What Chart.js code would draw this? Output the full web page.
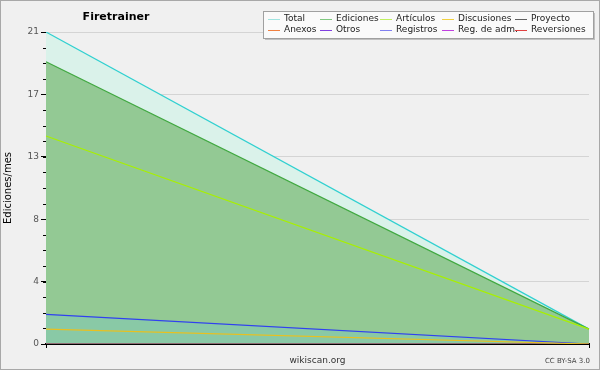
<!DOCTYPE html>
<html>
<head>
<meta charset="utf-8">
<script src="https://cdn.jsdelivr.net/npm/chart.js@4/dist/chart.umd.min.js"></script>
<style>
html,body{margin:0;padding:0;background:#f0f0f0;}
#wrap{width:600px;height:370px;position:relative;}
</style>
</head>
<body>
<div id="wrap"><canvas id="c" width="600" height="370"></canvas></div>
<script>
const months = ["2016-01", "2016-02"];
const seriesNames = ["Total","Ediciones","Artículos","Discusiones","Proyecto","Anexos","Otros","Registros","Reg. de adm.","Reversiones"];
const total = [21, 1];
const ediciones = [19, 1];
const articulos = [14, 1];
const discusiones = [1, 0];
const proyecto = [0, 0];
const anexos = [0, 0];
const otros = [0, 0];
const registros = [2, 0];
const regAdm = [0, 0];
const reversiones = [0, 0];
const yTickLabels = ["0","4","8","13","17","21"];

const legendColors = ["#a0e4e0","#80c880","#c0f060","#f0d040","#606060","#f08040","#8040e0","#8080f0","#c040e0","#e04040"];
const lineColors = ["#30d0d0","#40a840","#a8f000","#e8c020","#606060","#f08040","#8040e0","#3040f0","#c040e0","#e04040"];
const fills = ["#daf2ea","#93c994",false,false,false,false,false,"rgba(120,200,200,0.35)",false,false];
const values = [total, ediciones, articulos, discusiones, proyecto, anexos, otros, registros, regAdm, reversiones];

const datasets = seriesNames.map((n,i)=>({
  label: n,
  data: values[i],
  borderColor: lineColors[i],
  backgroundColor: fills[i] || 'transparent',
  fill: fills[i] ? 'origin' : false,
  borderWidth: 1.2,
  pointRadius: 0,
  tension: 0,
  order: i===0 ? 10 : (i===1 ? 9 : (i===7 ? 8 : i))
}));

const deco = {
  id: 'deco',
  beforeDraw(chart){
    const ctx = chart.ctx;
    ctx.save();
    ctx.fillStyle = '#f0f0f0';
    ctx.fillRect(0,0,600,370);
    ctx.strokeStyle = '#a8a8a8';
    ctx.lineWidth = 1;
    ctx.strokeRect(0.5,0.5,599,369);
    ctx.restore();
  },
  afterDraw(chart){
    const ctx = chart.ctx;
    const y = chart.scales.y;
    const left = chart.chartArea.left;
    ctx.save();
    ctx.strokeStyle = '#000';
    ctx.lineWidth = 1;
    for (let v = 0; v <= 21.001; v += 1.05) {
      const py = Math.round(y.getPixelForValue(v)) + 0.5;
      ctx.beginPath();
      ctx.moveTo(left - 3, py);
      ctx.lineTo(left, py);
      ctx.stroke();
    }
    ctx.fillStyle = '#000';
    ctx.font = 'bold 11px "DejaVu Sans"';
    ctx.textAlign = 'center';
    ctx.textBaseline = 'middle';
    ctx.fillText('Firetrainer', 116, 17);
    ctx.font = '7px "DejaVu Sans"';
    ctx.fillStyle = '#444';
    ctx.textAlign = 'right';
    ctx.fillText('CC BY-SA 3.0', 590, 361);
    const bx = 263, by = 11, bw = 330, bh = 27;
    ctx.fillStyle = '#c0c0c0';
    ctx.fillRect(bx+2, by+2, bw, bh);
    ctx.fillStyle = '#fafafa';
    ctx.fillRect(bx, by, bw, bh);
    ctx.strokeStyle = '#a0a0a0';
    ctx.strokeRect(bx+0.5, by+0.5, bw, bh);
    const colX = [268, 320, 380, 442, 515];
    const rowY = [19, 29.5];
    ctx.font = '9px "DejaVu Sans"';
    ctx.textAlign = 'left';
    ctx.textBaseline = 'middle';
    chart.data.datasets.forEach((ds, i) => {
      const c = i % 5, r = Math.floor(i / 5);
      const x = colX[c], yy = rowY[r];
      ctx.strokeStyle = legendColors[i];
      ctx.lineWidth = 1;
      ctx.beginPath();
      ctx.moveTo(x, Math.round(yy)+0.5);
      ctx.lineTo(x+12, Math.round(yy)+0.5);
      ctx.stroke();
      ctx.fillStyle = '#222';
      ctx.fillText(ds.label, x+16, yy);
    });
    ctx.restore();
  }
};

new Chart(document.getElementById('c'), {
  type: 'line',
  data: { labels: months, datasets },
  options: {
    responsive: false,
    animation: false,
    devicePixelRatio: 1,
    layout: { padding: { left: 0, right: 11, top: 32, bottom: 0 } },
    plugins: { legend: { display: false }, title: { display: false }, tooltip: { enabled: false } },
    scales: {
      x: {
        type: 'category',
        offset: false,
        grid: { display: true, drawOnChartArea: false, color: '#000', tickColor: '#000', tickLength: 4 },
        border: { display: true, color: '#000', width: 2 },
        ticks: { display: false },
        title: { display: true, text: 'wikiscan.org', font: { family: 'DejaVu Sans', size: 9 }, color: '#333', padding: { top: 2, bottom: 4 } },
        afterFit(s){ s.height = 26; }
      },
      y: {
        min: 0, max: 21,
        ticks: {
          stepSize: 4.2,
          autoSkip: false,
          padding: 2,
          color: '#555',
          font: { family: 'DejaVu Sans', size: 9 },
          callback: (v, idx) => yTickLabels[idx]
        },
        grid: { color: '#d4d4d4', tickColor: '#000', tickLength: 5, lineWidth: 1 },
        border: { display: true, color: '#000', width: 1 },
        title: { display: true, text: 'Ediciones/mes', font: { family: 'DejaVu Sans', size: 10 }, color: '#000', padding: { top: 2, bottom: 0 } },
        afterFit(s){ s.width = 46; }
      }
    }
  },
  plugins: [deco]
});
</script>
</body>
</html>
